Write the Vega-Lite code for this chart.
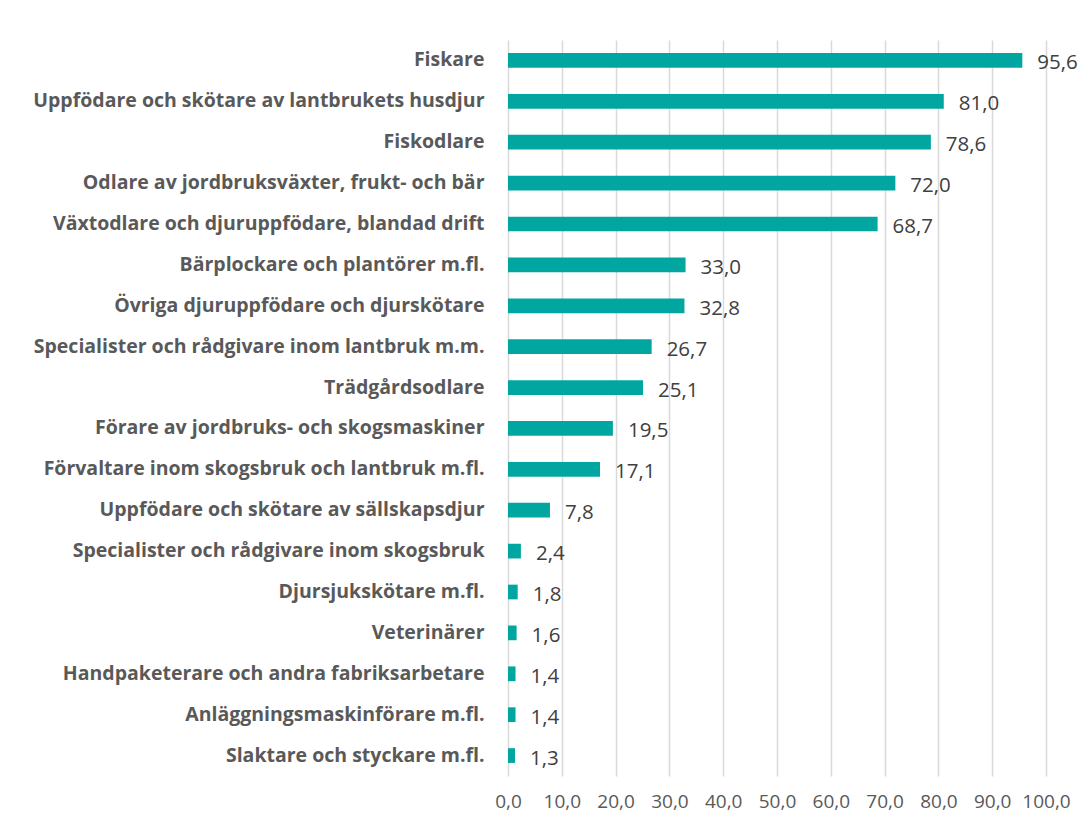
{
  "$schema": "https://vega.github.io/schema/vega-lite/v6.json",
  "width": 538,
  "height": 736,
  "autosize": {"type": "none"},
  "padding": {"left": 508, "top": 40, "right": 45, "bottom": 53},
  "background": "white",
  "config": {
    "locale": {"number": {"decimal": ",", "thousands": " ", "grouping": [3], "currency": ["", " kr"]}},
    "view": {"stroke": null},
    "font": "Open Sans"
  },
  "data": {
    "values": [
      {"yrke": "Fiskare", "v": 95.6},
      {"yrke": "Uppfödare och skötare av lantbrukets husdjur", "v": 81.0},
      {"yrke": "Fiskodlare", "v": 78.6},
      {"yrke": "Odlare av jordbruksväxter, frukt- och bär", "v": 72.0},
      {"yrke": "Växtodlare och djuruppfödare, blandad drift", "v": 68.7},
      {"yrke": "Bärplockare och plantörer m.fl.", "v": 33.0},
      {"yrke": "Övriga djuruppfödare och djurskötare", "v": 32.8},
      {"yrke": "Specialister och rådgivare inom lantbruk m.m.", "v": 26.7},
      {"yrke": "Trädgårdsodlare", "v": 25.1},
      {"yrke": "Förare av jordbruks- och skogsmaskiner", "v": 19.5},
      {"yrke": "Förvaltare inom skogsbruk och lantbruk m.fl.", "v": 17.1},
      {"yrke": "Uppfödare och skötare av sällskapsdjur", "v": 7.8},
      {"yrke": "Specialister och rådgivare inom skogsbruk", "v": 2.4},
      {"yrke": "Djursjukskötare m.fl.", "v": 1.8},
      {"yrke": "Veterinärer", "v": 1.6},
      {"yrke": "Handpaketerare och andra fabriksarbetare", "v": 1.4},
      {"yrke": "Anläggningsmaskinförare m.fl.", "v": 1.4},
      {"yrke": "Slaktare och styckare m.fl.", "v": 1.3}
    ]
  },
  "encoding": {
    "y": {
      "field": "yrke", "type": "nominal", "sort": null,
      "scale": {"paddingInner": 0.64, "paddingOuter": 0.32},
      "axis": {
        "title": null, "domain": false, "ticks": false, "labelPadding": 24,
        "labelFont": "Open Sans", "labelFontSize": 19.5, "labelFontWeight": "bold",
        "labelColor": "#595959", "labelLimit": 600, "labelOverlap": false
      }
    },
    "x": {
      "field": "v", "type": "quantitative",
      "scale": {"domain": [0, 100], "nice": false},
      "axis": {
        "title": null, "domain": false, "ticks": false, "values": [0,10,20,30,40,50,60,70,80,90,100],
        "format": ".1f", "labelFont": "Open Sans", "labelFontSize": 19, "labelColor": "#595959",
        "labelPadding": 16, "labelOverlap": false, "labelBound": false, "labelFlush": false,
        "gridColor": "#d9d9d9", "gridWidth": 1.5
      }
    }
  },
  "layer": [
    {"mark": {"type": "bar", "color": "#02A6A1"}},
    {
      "mark": {"type": "text", "align": "left", "dx": 15, "fontSize": 20.5, "font": "Open Sans", "color": "#404040", "baseline": "middle", "dy": 3},
      "encoding": {"text": {"field": "v", "type": "quantitative", "format": ".1f"}}
    }
  ]
}
